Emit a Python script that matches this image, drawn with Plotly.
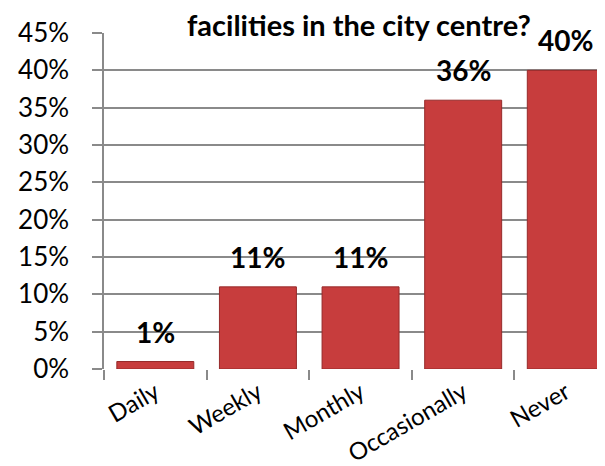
import plotly.graph_objects as go

categories = ["Daily", "Weekly", "Monthly", "Occasionally", "Never"]
values = [1, 11, 11, 36, 40]
y_ticks = [0, 5, 10, 15, 20, 25, 30, 35, 40, 45]
y_tick_labels = [f"{v}%" for v in y_ticks]
title_text = "facilities in the city centre?"

FONT = "Lato"

fig = go.Figure()
fig.add_trace(go.Bar(
    x=categories,
    y=values,
    marker=dict(color="#c73d3d", line=dict(color="#962a2a", width=1)),
    width=0.75,
    hoverinfo="x+y",
))

for c, v in zip(categories, values):
    fig.add_annotation(
        x=c, y=v, text=f"<b>{v}%</b>", showarrow=False,
        yanchor="middle", yshift=30,
        font=dict(family=FONT, size=28, color="black"),
    )

# chart title (its first line lies outside the reference crop)
fig.add_annotation(
    x=0.5, xref="paper", xanchor="center",
    y=1.0, yref="paper", yanchor="bottom", yshift=-11,
    text=f"<b>{title_text}</b>", showarrow=False,
    font=dict(family=FONT, size=29, color="black"),
)

fig.update_layout(
    width=605, height=466,
    margin=dict(l=96, r=0, t=25, b=105),
    paper_bgcolor="white", plot_bgcolor="white",
    showlegend=False,
    font=dict(family=FONT, color="black"),
)

fig.update_xaxes(
    type="category",
    range=[-0.5, 4.46],
    showgrid=False,
    showline=False,
    ticks="outside", ticklen=10, tickcolor="#8a8a8a", tickwidth=1.5,
    tickson="boundaries",
    tickangle=-30,
    tickfont=dict(family=FONT, size=24, color="black"),
    ticklabelstandoff=4,
)

fig.update_yaxes(
    range=[0, 45],
    tickvals=y_ticks, ticktext=y_tick_labels,
    showgrid=True, gridcolor="#8a8a8a", gridwidth=1.5,
    showline=True, linecolor="#8a8a8a", linewidth=1.5,
    ticks="outside", ticklen=10, tickcolor="#8a8a8a", tickwidth=1.5,
    tickfont=dict(family=FONT, size=26, color="black"),
    ticklabelstandoff=18,
    zeroline=False,
)

fig.write_html("out.html")
